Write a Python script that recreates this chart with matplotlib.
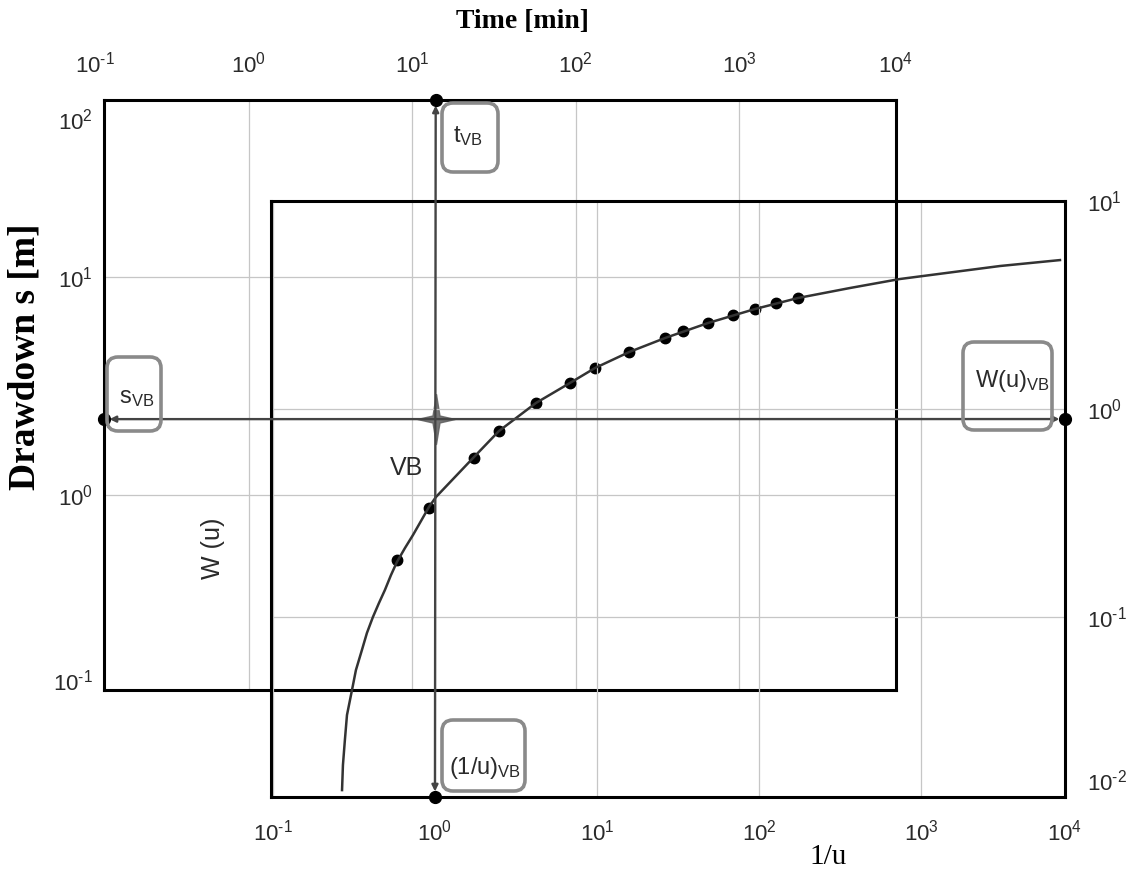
#Import packages
import math
import matplotlib
matplotlib.use('Agg')
import matplotlib.pyplot as plt
from matplotlib.patches import ConnectionPatch, FancyBboxPatch
from matplotlib.transforms import IdentityTransform
from matplotlib.ticker import LogLocator, NullLocator, FuncFormatter

#Type curve W(u) against 1/u
inv_u = [0.267, 0.2704, 0.278, 0.2864, 0.3076, 0.3252, 0.3541, 0.3802, 0.414,
         0.451, 0.491, 0.535, 0.582, 0.653, 0.732, 0.820, 0.918, 1.014, 1.742,
         2.484, 4.20, 6.81, 9.72, 15.8, 26.3, 48.4, 94.5, 174, 365, 741, 3076,
         7211]
w_u = [0.01473, 0.01942, 0.02563, 0.0338, 0.0446, 0.0556, 0.0694, 0.0838,
       0.100, 0.1167, 0.1349, 0.159, 0.1837, 0.2147, 0.248, 0.2895, 0.338,
       0.3775, 0.588, 0.784, 1.069, 1.334, 1.574, 1.879, 2.194, 2.590, 3.025,
       3.417, 3.818, 4.217, 4.870, 5.20]

#Measured drawdown
time_min = [8.11, 12.6, 23.8, 33.9, 57.0, 92.2, 131, 212, 352, 453, 644, 916,
            1250, 1680, 2290]
drawdown = [0.503, 0.872, 1.48, 1.97, 2.64, 3.26, 3.83, 4.53, 5.25, 5.65,
            6.15, 6.69, 7.13, 7.60, 8.01]

#Match point VB
t_vb = 13.9
s_vb = 2.23
inv_u_vb = 1.0
w_vb = 0.895

plt.rcParams['font.family'] = ['Liberation Sans', 'DejaVu Sans']
plt.rcParams['mathtext.fontset'] = 'custom'
plt.rcParams['mathtext.rm'] = 'Liberation Sans'
plt.rcParams['mathtext.it'] = 'Liberation Sans:italic'
plt.rcParams['mathtext.bf'] = 'Liberation Sans:bold'

W_PX, H_PX = 1140, 874
def fx(x):
	return x / W_PX
def fy(y):
	return 1 - y / H_PX
def rect(l, t, r, b):
	return [fx(l), fy(b), fx(r) - fx(l), fy(t) - fy(b)]

def sci(e):
	if e < 0:
		return r'$\mathdefault{10^{\text{-}%d}}$' % (-e)
	return r'$\mathdefault{10^{%d}}$' % e

TXT = '#2a2a2a'
LINE = '#444444'
TICK = 16

def style_axes(ax):
	ax.set_xscale('log')
	ax.set_yscale('log')
	for a in (ax.xaxis, ax.yaxis):
		a.set_major_locator(LogLocator(base=10, numticks=12))
		a.set_minor_locator(NullLocator())
		a.set_major_formatter(FuncFormatter(lambda v, pos: sci(int(round(math.log10(v))))))
	ax.grid(True, which='major', color='#c6c6c6', lw=0.9)
	ax.tick_params(length=0, labelsize=TICK, labelcolor=TXT)
	for sp in ax.spines.values():
		sp.set_linewidth(2.2)
		sp.set_color('black')

def extra_label(ax, e, xy, off, ha, va):
	ax.annotate(sci(e), xy=xy, xycoords='axes fraction', xytext=off,
	            textcoords='offset points', ha=ha, va=va, fontsize=TICK,
	            color=TXT, annotation_clip=False)

def main():
	fig = plt.figure(figsize=(11.4, 8.74), dpi=100)

	#Data axes (time / drawdown)
	ax1 = fig.add_axes(rect(104, 100, 896, 690))
	style_axes(ax1)
	ax1.set_xlim(10 ** -0.887, 10 ** 3.96)
	ax1.set_ylim(10 ** -0.894, 10 ** 1.812)
	ax1.xaxis.tick_top()
	ax1.tick_params(axis='x', pad=16)
	ax1.tick_params(axis='y', pad=8)
	extra_label(ax1, -1, (-0.012, 1), (0, 16), 'center', 'bottom')
	extra_label(ax1, 4, (1, 1), (0, 16), 'center', 'bottom')
	extra_label(ax1, 2, (0, 0.963), (-8, 0), 'right', 'center')
	extra_label(ax1, -1, (0, 0.012), (-8, 0), 'right', 'center')

	#Type curve axes (1/u / W(u))
	ax2 = fig.add_axes(rect(271, 201, 1065, 797))
	style_axes(ax2)
	ax2.patch.set_visible(False)
	ax2.set_xlim(10 ** -1.012, 10 ** 3.889)
	ax2.set_ylim(10 ** -1.865, 10 ** 1.0)
	ax2.yaxis.tick_right()
	ax2.tick_params(axis='both', pad=16)
	extra_label(ax2, 4, (1, 0), (0, -16), 'center', 'top')
	extra_label(ax2, -2, (1, 0.0235), (16, 0), 'left', 'center')

	#Curve and points
	ax2.plot(inv_u, w_u, color='#333333', lw=1.8, zorder=3)
	ax1.plot(time_min, drawdown, 'o', color='black', ms=7.5, zorder=4)

	#Match lines through VB
	y1top = ax1.get_ylim()[1]
	x1left = ax1.get_xlim()[0]
	y2bot = ax2.get_ylim()[0]
	x2right = ax2.get_xlim()[1]
	vline = ConnectionPatch(xyA=(t_vb, y1top), coordsA=ax1.transData,
	                        xyB=(inv_u_vb, y2bot), coordsB=ax2.transData,
	                        arrowstyle='<|-|>', mutation_scale=9, shrinkA=4,
	                        shrinkB=4, lw=1.7, color=LINE)
	hline = ConnectionPatch(xyA=(x1left, s_vb), coordsA=ax1.transData,
	                        xyB=(x2right, w_vb), coordsB=ax2.transData,
	                        arrowstyle='<|-|>', mutation_scale=9, shrinkA=4,
	                        shrinkB=4, lw=1.7, color=LINE)
	fig.add_artist(vline)
	fig.add_artist(hline)
	ax1.plot([t_vb], [y1top], 'o', color='black', ms=8.5, clip_on=False, zorder=6)
	ax1.plot([x1left], [s_vb], 'o', color='black', ms=8.5, clip_on=False, zorder=6)
	ax2.plot([x2right], [w_vb], 'o', color='black', ms=8.5, clip_on=False, zorder=6)
	ax2.plot([inv_u_vb], [y2bot], 'o', color='black', ms=8.5, clip_on=False, zorder=6)

	#Sparkle at VB
	star = [(0, 1), (0.14, 0.14), (0.75, 0), (0.14, -0.14), (0, -1),
	        (-0.14, -0.14), (-0.75, 0), (-0.14, 0.14), (0, 1)]
	ax1.plot([t_vb], [s_vb], marker=star, ms=36, color='#5e5e5e',
	         mec='#5e5e5e', alpha=0.85, zorder=5)

	#Rounded label boxes
	boxes = [((442, 103, 498, 172), r'$\mathregular{t_{VB}}$', (468, 136)),
	         ((107, 357, 161, 431), r'$\mathregular{s_{VB}}$', (137, 398)),
	         ((963, 342, 1052, 430), r'$\mathregular{W(u)_{VB}}$', (1012, 381)),
	         ((442, 720, 525, 791), r'$\mathregular{(1/u)_{VB}}$', (485, 768))]
	for (l, t, r, b), label, (cx, cy) in boxes:
		p = FancyBboxPatch((l, H_PX - b), r - l, b - t,
		                   boxstyle='round,pad=0,rounding_size=11',
		                   transform=IdentityTransform(), fc='none',
		                   ec='#8a8a8a', lw=2.6, zorder=7)
		fig.add_artist(p)
		fig.text(fx(cx), fy(cy), label, fontsize=17, color=TXT,
		         ha='center', va='center', zorder=8)

	#Titles and labels
	fig.text(fx(522), fy(22), 'Time [min]', family='Liberation Serif',
	         weight='bold', fontsize=20, ha='center', va='center')
	fig.text(fx(25), fy(357), 'Drawdown s [m]', family='Liberation Serif',
	         weight='bold', fontsize=27, rotation=90, ha='center', va='center')
	fig.text(fx(828), fy(857), '1/u', family='Liberation Serif',
	         fontsize=21, ha='center', va='center')
	fig.text(fx(213), fy(548), 'W (u)', fontsize=18, color=TXT,
	         rotation=90, ha='center', va='center')
	fig.text(fx(407), fy(468), 'VB', fontsize=18, color=TXT,
	         ha='center', va='center')

	fig.savefig('out.png', dpi=100)

#Execute main script
if __name__ == '__main__':
	main()
